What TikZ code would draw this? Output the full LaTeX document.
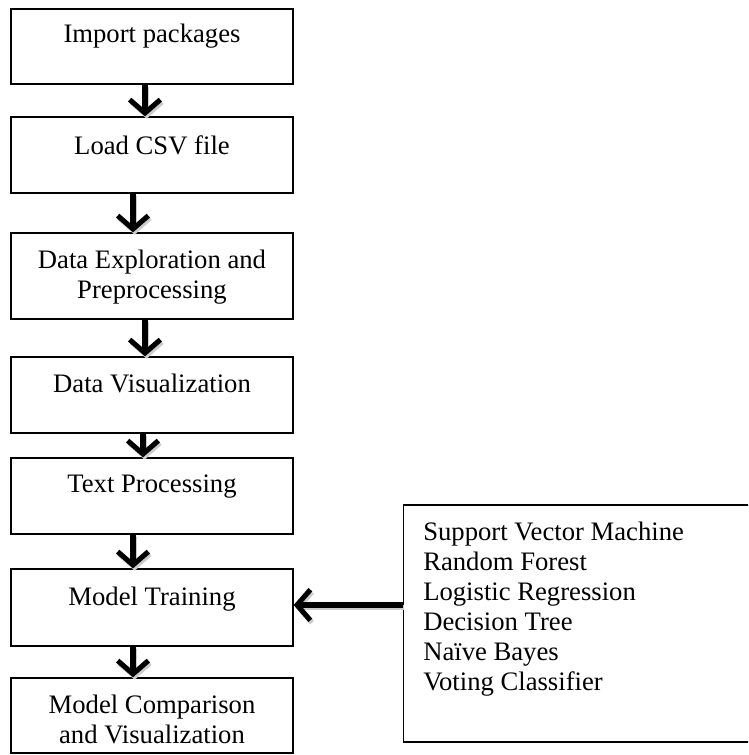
\documentclass[tikz,border=0pt]{standalone}
\usepackage{fontspec}
\setmainfont{Liberation Serif}
\usetikzlibrary{arrows.meta}
\begin{document}
\begin{tikzpicture}[x=0.75pt,y=-0.75pt,
  stepbox/.style={draw=black, line width=1pt, minimum width=211.5pt, inner sep=0pt},
  txt/.style={font=\fontsize{20pt}{22.5pt}\selectfont, inner sep=0pt, anchor=base},
  arr/.style={line width=3.8pt, -{Straight Barb[length=10pt,width=23pt]},
    preaction={draw=black!20, line width=3.8pt, transform canvas={shift={(1.2pt,-1.8pt)}}}}]
\clip (0,0) rectangle (748,755);
\fill[white] (0,0) rectangle (748,755);
% boxes
\node[stepbox, minimum height=56.25pt] (b1) at (152,46.5) {};
\node[stepbox, minimum height=57pt] (b2) at (152,155) {};
\node[stepbox, minimum height=64.5pt] (b3) at (152,276) {};
\node[stepbox, minimum height=57pt] (b4) at (152,395) {};
\node[stepbox, minimum height=57pt] (b5) at (152,496) {};
\node[stepbox, minimum height=57.75pt] (b6) at (152,607.5) {};
\node[stepbox, minimum height=56.25pt] (b7) at (152,715.5) {};
\node[draw=black, line width=1pt, minimum width=275pt, minimum height=177.75pt, inner sep=0pt] (algos) at (586.5,623.5) {};
% texts
\node[txt] (t1) at (152,43) {Import packages};
\node[txt] (t2) at (152,155) {Load CSV file};
\node[txt] (t3) at (152,268) {\begin{tabular}[t]{@{}c@{}}Data Exploration and\\Preprocessing\end{tabular}};
\node[txt] (t4) at (152,392) {Data Visualization};
\node[txt] (t5) at (152,492) {Text Processing};
\node[txt] (t6) at (152,605) {Model Training};
\node[txt] (t7) at (152,713) {\begin{tabular}[t]{@{}c@{}}Model Comparison\\and Visualization\end{tabular}};
\node[txt, anchor=base west] (list) at (423,540) {\begin{tabular}[t]{@{}l@{}}Support Vector Machine\\Random Forest\\Logistic Regression\\Decision Tree\\Na\"ive Bayes\\Voting Classifier\end{tabular}};
% arrows
\draw[arr] (b1.south -| 145,0) -- (b2.north -| 145,0);
\draw[arr] (b2.south -| 133,0) -- (b3.north -| 133,0);
\draw[arr] (b3.south -| 145,0) -- (b4.north -| 145,0);
\draw[arr] (b4.south -| 143,0) -- (b5.north -| 143,0);
\draw[arr] (b5.south -| 133,0) -- (b6.north -| 133,0);
\draw[arr] (b6.south -| 133,0) -- (b7.north -| 133,0);
\draw[arr] (algos.west |- 0,605) -- (b6.east |- 0,605);
\end{tikzpicture}
\end{document}
